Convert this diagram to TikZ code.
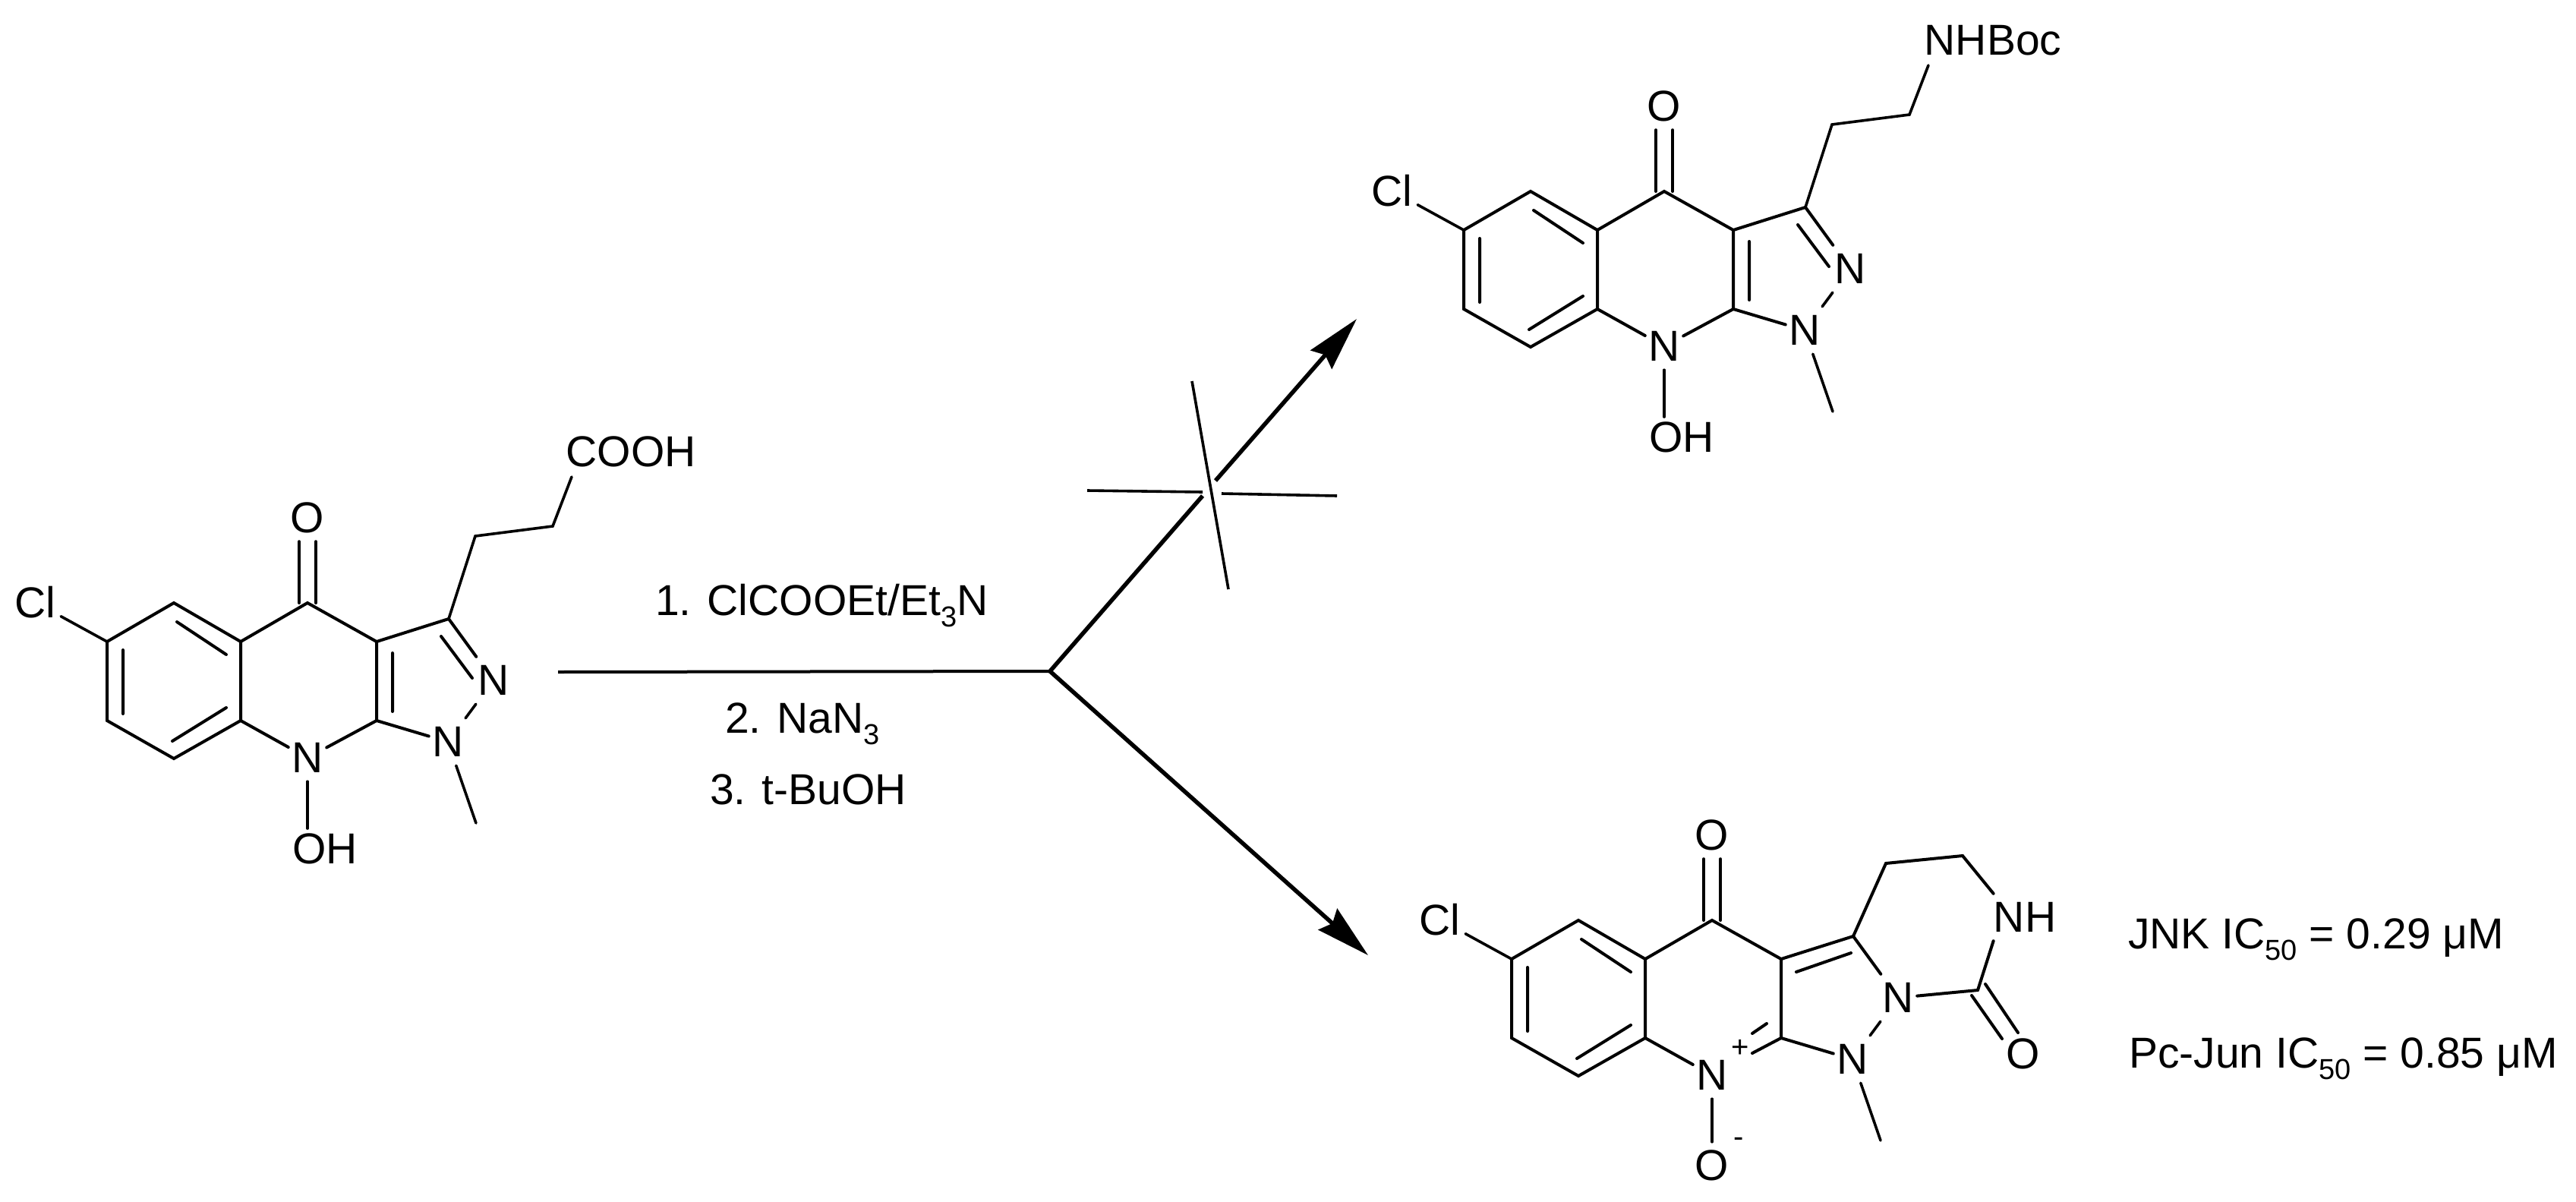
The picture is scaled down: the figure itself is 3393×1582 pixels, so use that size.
\documentclass[tikz,border=0pt]{standalone}
\usepackage{fontspec}
\setmainfont{Liberation Sans}
\usetikzlibrary{arrows.meta,calc}
\newcommand{\lowsub}[1]{\raisebox{-15pt}{\fontsize{38}{38}\selectfont #1}}
\tikzset{
  x=1pt,y=-1pt,
  bond/.style={draw=black,line width=4pt,line cap=round,line join=miter},
  thinbond/.style={draw=black,line width=3.6pt,line cap=round},
  atom/.style={inner sep=0pt,minimum width=50pt,minimum height=62pt,font=\fontsize{57}{60}\selectfont},
  chlorine/.style={atom,minimum width=68pt},
  label text/.style={inner sep=0pt,anchor=base west,font=\fontsize{57}{60}\selectfont},
  rxn/.style={draw=black,line width=5.5pt},
  crossline/.style={draw=black,line width=3.6pt},
  rxnhead/.style={-{Stealth[length=71pt,width=37pt,inset=8pt]}},
}
% the skeleton shared by all three molecules
\newcommand{\chemcore}{
  \coordinate (C6) at (141,845);
  \coordinate (C5) at (229,794);
  \coordinate (C4a) at (317,845);
  \coordinate (C8a) at (317,949);
  \coordinate (C8) at (229,999);
  \coordinate (C7) at (141,949);
  \coordinate (C4) at (405,794);
  \coordinate (C3a) at (496,845);
  \coordinate (C9a) at (496,949);
  \coordinate (C3) at (591,815);
  \node[chlorine] (Cl) at (46,793) {Cl};
  \node[atom] (O4) at (405,682) {O};
  \node[atom] (N9) at (405,998) {N};
  \node[atom] (N2) at (650,896) {N};
  \node[atom] (N1) at (590,977) {N};
  \coordinate (Me) at (627,1084);
  \draw[bond] (C6)--(C5)--(C4a)--(C8a)--(C8)--(C7)--cycle;
  \draw[bond] (233,819)--(298,862) (162,856)--(162,940) (227,976)--(298,932);
  \draw[thinbond] (C6)--(Cl);
  \draw[bond] (C4a)--(C4)--(C3a)--(C9a) (C3a)--(C3);
  \draw[bond] ($(C4)+(-11,0)$)--($(O4.south)+(-11,0)$);
  \draw[bond] ($(C4)+(11,0)$)--($(O4.south)+(11,0)$);
  \draw[bond] (C8a)--(N9);
  \draw[bond] (C3)--(N2);
  \draw[bond] (C9a)--(N1);
  \draw[thinbond] (N2)--(N1);
  \draw[thinbond] (N1)--(Me);
}
% the open-chain molecules
\newcommand{\chemtail}{
  \coordinate (Ca) at (626,706);
  \coordinate (Cb) at (728,693);
  \coordinate (Cc) at (753,628);
  \coordinate (OHb) at (405,1091);
  \draw[bond] (581,838)--(622,893) (517,860)--(517,937);
  \draw[bond] (C9a)--(N9);
  \draw[thinbond] (N9)--(OHb);
  \draw[thinbond] (C3)--(Ca)--(Cb)--(Cc);
  \node[atom] (OH) at (428,1118) {OH};
}
\begin{document}
\begin{tikzpicture}
\useasboundingbox (0,0) rectangle (3393,1582);
\fill[white] (0,0) rectangle (3393,1582);

\begin{scope}[name prefix=a-]
  \chemcore
  \chemtail
  \node[atom] (COOH) at (831,595) {COOH};
\end{scope}

\begin{scope}[shift={(1787,-542)},name prefix=b-]
  \chemcore
  \chemtail
  \node[atom] (NHBoc) at (838,595) {NHBoc};
\end{scope}

\begin{scope}[shift={(1850,418)},name prefix=c-]
  \chemcore
  \coordinate (Ca) at (634,719);
  \coordinate (Cb) at (735,709);
  \coordinate (CO) at (755,886);
  \coordinate (N9r) at (458,969);
  \node[atom] (NH) at (817,790) {NH};
  \node[atom] (O7) at (815,970) {O};
  \node[atom] (Om) at (405,1117) {O};
  \node[inner sep=0pt,font=\fontsize{40}{40}\selectfont] (plus) at (442,963) {+};
  \node[inner sep=0pt,font=\fontsize{40}{40}\selectfont] (minus) at (440,1086) {-};
  \draw[bond] (C9a)--(N9r);
  \draw[bond] (458,943)--(477,930);
  \draw[bond] (516,862)--(588,837);
  \draw[thinbond] (N9)--(Om);
  \draw[bond] (C3)--(Ca)--(Cb);
  \draw[bond] (Cb)--(NH.north west);
  \draw[bond] (NH.south west)--(CO);
  \draw[bond] (N2)--(CO);
  \draw[bond] (765,878)--(808,942) (747,893)--(787,950);
\end{scope}

% reaction arrows
\coordinate (start) at (735,885);
\coordinate (fork) at (1383,884);
\coordinate (upA) at (1584,653);
\coordinate (upB) at (1601,633);
\coordinate (upTip) at (1787,420);
\coordinate (downTip) at (1802,1258);
\coordinate (xt) at (1570,502);
\coordinate (xb) at (1618,776);
\coordinate (yl) at (1432,646);
\coordinate (ylb) at (1584,648);
\coordinate (yr) at (1609,650);
\coordinate (yre) at (1761,653);
\draw[rxn,line width=4pt] (start)--(fork);
\draw[rxn] (fork)--(upA);
\draw[rxn,rxnhead] (upB)--(upTip);
\draw[rxn,rxnhead] (fork)--(downTip);
\draw[crossline] (xt)--(xb);
\draw[crossline] (yl)--(ylb);
\draw[crossline] (yr)--(yre);

\node[label text] (r1) at (863,810) {1. ClCOOEt/Et\lowsub{3}N};
\node[label text] (r2) at (955,965) {2. NaN\lowsub{3}};
\node[label text] (r3) at (935,1059) {3. t-BuOH};
\node[label text] (ic1) at (2803,1249) {JNK IC\lowsub{50} = 0.29 μM};
\node[label text] (ic2) at (2804,1406) {Pc-Jun IC\lowsub{50} = 0.85 μM};
\end{tikzpicture}
\end{document}
